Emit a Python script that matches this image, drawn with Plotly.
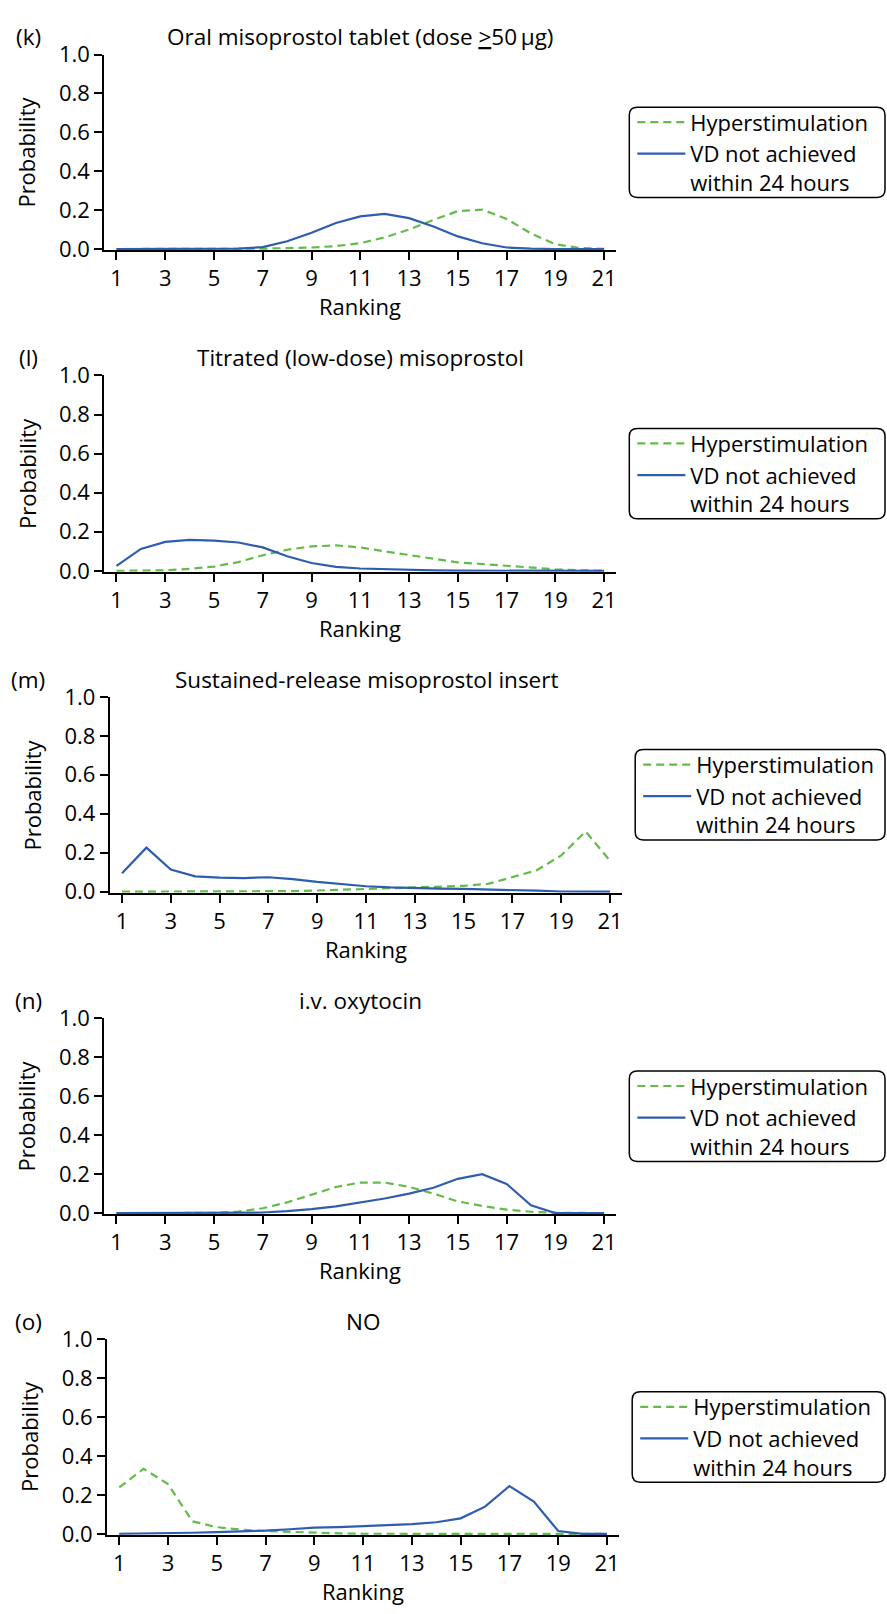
import plotly.graph_objects as go

W, H = 887, 1614

ranks = list(range(1, 22))
tick_vals = [1, 3, 5, 7, 9, 11, 13, 15, 17, 19, 21]
y_ticks = [0.0, 0.2, 0.4, 0.6, 0.8, 1.0]

panel_letters = ["(k)", "(l)", "(m)", "(n)", "(o)"]
panel_titles = [
    "Oral misoprostol tablet (dose <u>></u>50\u2009µg)",
    "Titrated (low-dose) misoprostol",
    "Sustained-release misoprostol insert",
    "i.v. oxytocin",
    "NO",
]
series_names = ["Hyperstimulation", "VD not achieved<br>within 24 hours"]

k_hyper = [0, 0, 0, 0, 0, 0, 0.002, 0.005, 0.008, 0.015, 0.03, 0.06, 0.1, 0.15, 0.195, 0.203, 0.155, 0.08, 0.025, 0.005, 0.001]
k_vd = [0, 0, 0, 0, 0, 0.002, 0.01, 0.04, 0.084, 0.134, 0.168, 0.181, 0.159, 0.116, 0.065, 0.03, 0.008, 0.002, 0, 0, 0]

l_hyper = [0, 0.001, 0.003, 0.01, 0.022, 0.045, 0.08, 0.108, 0.125, 0.13, 0.12, 0.1, 0.08, 0.06, 0.043, 0.035, 0.025, 0.017, 0.008, 0.003, 0.001]
l_vd = [0.025, 0.112, 0.148, 0.158, 0.155, 0.145, 0.12, 0.075, 0.04, 0.02, 0.012, 0.008, 0.004, 0.002, 0.001, 0.001, 0, 0, 0, 0, 0]

m_hyper = [0, 0, 0, 0, 0, 0, 0.001, 0.003, 0.006, 0.01, 0.013, 0.017, 0.02, 0.025, 0.03, 0.04, 0.075, 0.11, 0.186, 0.309, 0.159]
m_vd = [0.095, 0.226, 0.114, 0.079, 0.072, 0.07, 0.074, 0.064, 0.05, 0.038, 0.028, 0.022, 0.018, 0.016, 0.014, 0.012, 0.01, 0.005, 0.001, 0, 0]

n_hyper = [0, 0, 0, 0, 0.001, 0.008, 0.025, 0.055, 0.095, 0.134, 0.157, 0.157, 0.135, 0.1, 0.06, 0.037, 0.018, 0.007, 0.002, 0, 0]
n_vd = [0, 0, 0, 0, 0, 0.001, 0.003, 0.01, 0.02, 0.035, 0.055, 0.075, 0.1, 0.13, 0.176, 0.2, 0.15, 0.04, 0, 0, 0]

o_hyper = [0.239, 0.334, 0.256, 0.065, 0.035, 0.022, 0.015, 0.01, 0.005, 0.003, 0.001, 0.001, 0, 0, 0, 0, 0, 0, 0, 0, 0]
o_vd = [0.001, 0.002, 0.004, 0.006, 0.009, 0.012, 0.017, 0.024, 0.032, 0.035, 0.04, 0.043, 0.05, 0.06, 0.08, 0.14, 0.246, 0.166, 0.015, 0, 0]

hyper_series = [k_hyper, l_hyper, m_hyper, n_hyper, o_hyper]
vd_series = [k_vd, l_vd, m_vd, n_vd, o_vd]

# panel geometry in pixels: (left, right, top, bottom) of plot area
geom = [
    (104.3, 616.3, 39.3, 238.3),
    (104.3, 616.3, 366.0, 566.0),
    (109.8, 622.2, 693.3, 892.7),
    (104.3, 616.3, 1020.7, 1220.0),
    (107.0, 619.2, 1347.3, 1546.7),
]

GREEN = "#62BC47"
BLUE = "#2E5DB0"
FONT = "Open Sans"
TXT = "#000000"
FS = 22
TITLEFS = 22.5
TICKFS = 22


def px(x):
    return x / W


def py(y):
    return 1 - y / H


fig = go.Figure()
layout = dict(
    width=W, height=H,
    margin=dict(l=0, r=0, t=0, b=0),
    paper_bgcolor="white", plot_bgcolor="white",
    font=dict(family=FONT, size=FS, color=TXT),
    showlegend=True,
)
annotations = []
shapes = []

for i in range(5):
    x0, x1, y0, y1 = geom[i]
    sfx = "" if i == 0 else str(i + 1)
    xa, ya = "x" + sfx, "y" + sfx
    lg = "legend" + sfx
    fig.add_trace(go.Scatter(
        x=ranks, y=hyper_series[i], mode="lines", name=series_names[0],
        line=dict(color=GREEN, width=2.2, dash="8px,5px"),
        xaxis=xa, yaxis=ya, legend=lg, hoverinfo="skip"))
    fig.add_trace(go.Scatter(
        x=ranks, y=vd_series[i], mode="lines", name=series_names[1],
        line=dict(color=BLUE, width=2.2),
        xaxis=xa, yaxis=ya, legend=lg, hoverinfo="skip"))

    layout["xaxis" + sfx] = dict(
        domain=[px(x0), px(x1)], anchor=ya, range=[0.5, 21.5],
        tickvals=tick_vals, ticks="outside", ticklen=8, tickwidth=2,
        tickcolor=TXT, showline=True, linecolor=TXT, linewidth=2,
        showgrid=False, zeroline=False, layer="below traces",
        tickfont=dict(size=TICKFS, family=FONT, color=TXT), fixedrange=True)
    layout["yaxis" + sfx] = dict(
        domain=[py(y1), py(y0)], anchor=xa, range=[-0.005, 1.0],
        tickvals=y_ticks, tickformat=".1f", ticks="outside", ticklen=8,
        tickwidth=2, tickcolor=TXT, showline=True, linecolor=TXT,
        linewidth=2, showgrid=False, zeroline=False, layer="below traces",
        tickfont=dict(size=TICKFS, family=FONT, color=TXT), fixedrange=True)

    cx = (x0 + x1) / 2
    cy = (y0 + y1) / 2
    annotations += [
        dict(text=panel_titles[i], x=px(cx), y=py(y0 - 18), xref="paper",
             yref="paper", xanchor="center", yanchor="middle",
             showarrow=False, font=dict(size=TITLEFS, family=FONT, color=TXT)),
        dict(text=panel_letters[i], x=px(28), y=py(y0 - 18), xref="paper",
             yref="paper", xanchor="center", yanchor="middle",
             showarrow=False, font=dict(size=TITLEFS, family=FONT, color=TXT)),
        dict(text="Ranking", x=px(cx), y=py(y1 + 57), xref="paper",
             yref="paper", xanchor="center", yanchor="middle",
             showarrow=False, font=dict(size=FS, family=FONT, color=TXT)),
        dict(text="Probability", x=px(x0 - 78), y=py(cy), xref="paper",
             yref="paper", xanchor="center", yanchor="middle", textangle=-90,
             showarrow=False, font=dict(size=FS, family=FONT, color=TXT)),
    ]

    # legend and its rounded box
    bx0 = x1 + 13
    bx1 = min(bx0 + 256, 885)
    by0 = cy - 46
    by1 = cy + 46
    layout[lg] = dict(
        x=px(bx0 + 3), y=py(cy), xanchor="left", yanchor="middle",
        bgcolor="rgba(0,0,0,0)", borderwidth=0, valign="top",
        font=dict(size=FS, family=FONT, color=TXT), itemwidth=48,
        tracegroupgap=0)
    r = 8
    rx, ry = r / W, r / H
    X0, X1, Y0, Y1 = px(bx0), px(bx1), py(by1), py(by0)
    path = (f"M{X0 + rx},{Y1} L{X1 - rx},{Y1} Q{X1},{Y1} {X1},{Y1 - ry} "
            f"L{X1},{Y0 + ry} Q{X1},{Y0} {X1 - rx},{Y0} L{X0 + rx},{Y0} "
            f"Q{X0},{Y0} {X0},{Y0 + ry} L{X0},{Y1 - ry} Q{X0},{Y1} {X0 + rx},{Y1} Z")
    shapes.append(dict(type="path", path=path, xref="paper", yref="paper",
                       line=dict(color=TXT, width=1.5), fillcolor="rgba(0,0,0,0)"))

layout["annotations"] = annotations
layout["shapes"] = shapes
fig.update_layout(**layout)
fig.write_html("out.html")
